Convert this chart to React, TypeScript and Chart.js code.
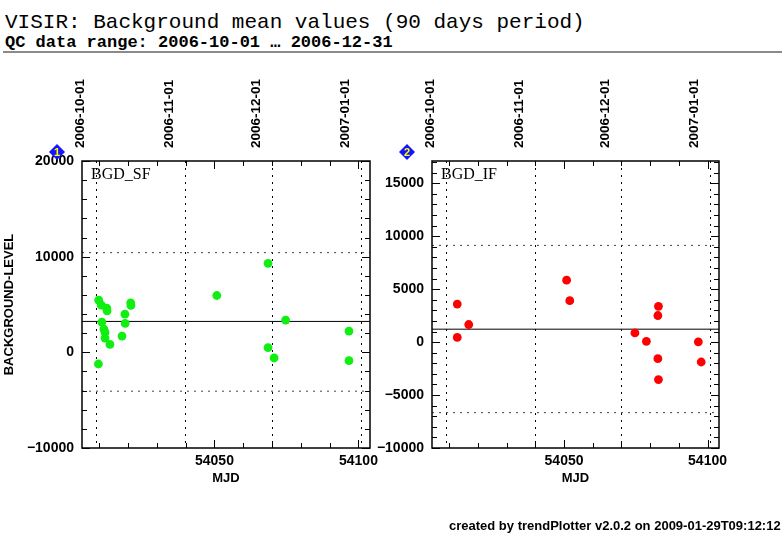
import React, { useEffect, useRef } from 'react';
import { Chart, registerables } from 'chart.js';

Chart.register(...registerables);

// MJD axis (bottom) and calendar axis (top)
const mjdMin = 54004;
const mjdMax = 54104;
const mjdLabels = [54050, 54100];
const mjdMinor = [54010, 54020, 54030, 54040, 54050, 54060, 54070, 54080, 54090, 54100];
const dateTicks = [54009, 54040, 54070, 54101];
const dateLabels = ['2006-10-01', '2006-11-01', '2006-12-01', '2007-01-01'];

// panel 1: BGD_SF
const sfMjd = [54009.8, 54010.7, 54012.6, 54012.7, 54010.9, 54011.6, 54012.0, 54012.0, 54013.7, 54009.7, 54018.9, 54019.0, 54017.9, 54020.9, 54021.0, 54050.8, 54068.6, 54068.6, 54070.7, 54074.7, 54096.7, 54096.7];
const sfLevel = [5450, 4930, 4620, 4340, 3160, 2430, 2080, 1490, 830, -1220, 3990, 3020, 1700, 5180, 4900, 5940, 9300, 490, -590, 3370, 2220, -870];
const sfMean = 3230;
const sfUpper = 10420;
const sfLower = -4060;
const sfYLabels = [-10000, 0, 10000, 20000];
const sfYMinor = [-10000, -8000, -6000, -4000, -2000, 0, 2000, 4000, 6000, 8000, 10000, 12000, 14000, 16000, 18000, 20000];

// panel 2: BGD_IF
const ifMjd = [54012.8, 54012.8, 54016.8, 54050.9, 54052.0, 54074.7, 54078.7, 54082.9, 54082.7, 54082.7, 54082.9, 54096.8, 54097.8];
const ifLevel = [3590, 440, 1660, 5850, 3910, 870, 70, 3380, 2510, -1570, -3540, 30, -1880];
const ifMean = 1220;
const ifUpper = 9130;
const ifLower = -6660;
const ifYLabels = [-10000, -5000, 0, 5000, 10000, 15000];
const ifYMinor = [-10000, -9000, -8000, -7000, -6000, -5000, -4000, -3000, -2000, -1000, 0, 1000, 2000, 3000, 4000, 5000, 6000, 7000, 8000, 9000, 10000, 11000, 12000, 13000, 14000, 15000, 16000, 17000];

const sans = '"Liberation Sans", Arial, sans-serif';

// frame with inward ticks on all four sides, panel name and numbered badge
const frameTicks = {
  id: 'frameTicks',
  afterDatasetsDraw(chart: any, _args: any, opts: any) {
    const { ctx, chartArea } = chart;
    const { left, right, top, bottom } = chartArea;
    const xs = chart.scales.x;
    const ys = chart.scales.y;
    ctx.save();
    ctx.strokeStyle = '#000';
    ctx.lineWidth = 1;
    ctx.beginPath();
    mjdMinor.forEach((v) => {
      const px = Math.round(xs.getPixelForValue(v)) + 0.5;
      const len = mjdLabels.includes(v) ? 8 : 5;
      ctx.moveTo(px, bottom);
      ctx.lineTo(px, bottom - len);
      ctx.moveTo(px, top);
      ctx.lineTo(px, top + len);
    });
    opts.yMinor.forEach((v: number) => {
      const py = Math.round(ys.getPixelForValue(v)) + 0.5;
      const len = opts.yMajor.includes(v) ? 8 : 5;
      ctx.moveTo(left, py);
      ctx.lineTo(left + len, py);
      ctx.moveTo(right, py);
      ctx.lineTo(right - len, py);
    });
    ctx.stroke();
    ctx.lineWidth = 1.5;
    ctx.strokeRect(left, top, right - left, bottom - top);

    ctx.fillStyle = '#000';
    ctx.font = '16px "Liberation Serif", serif';
    ctx.textAlign = 'left';
    ctx.textBaseline = 'alphabetic';
    ctx.fillText(opts.label, left + 9, top + 18);

    const cx = left - 25;
    const cy = top - 9;
    ctx.beginPath();
    ctx.moveTo(cx, cy - 8);
    ctx.lineTo(cx + 8, cy);
    ctx.lineTo(cx, cy + 8);
    ctx.lineTo(cx - 8, cy);
    ctx.closePath();
    ctx.fillStyle = '#1414ff';
    ctx.fill();
    ctx.fillStyle = '#ffff00';
    ctx.font = 'bold 11px ' + sans;
    ctx.textAlign = 'center';
    ctx.textBaseline = 'middle';
    ctx.fillText(opts.badge, cx, cy + 1);
    ctx.restore();
  },
};

const minusFmt = (v: number) => (v < 0 ? '\u2212' + Math.abs(v) : String(v));

type PanelProps = {
  mjd: number[];
  level: number[];
  mean: number;
  upper: number;
  lower: number;
  yMin: number;
  yMax: number;
  yLabels: number[];
  yMinor: number[];
  color: string;
  label: string;
  badge: string;
  yTitle: string;
  yAxisWidth: number;
  padRight: number;
  x: number;
  w: number;
};

const Panel: React.FC<PanelProps> = (p) => {
  const ref = useRef<HTMLCanvasElement>(null);

  useEffect(() => {
    if (!ref.current) return;
    const hline = (y: number) => [
      { x: mjdMin, y },
      { x: mjdMax, y },
    ];
    const chart = new Chart(ref.current, {
      type: 'scatter',
      data: {
        datasets: [
          {
            data: p.mjd.map((m, i) => ({ x: m, y: p.level[i] })),
            backgroundColor: p.color,
            borderWidth: 0,
            pointRadius: 4.4,
          },
          {
            data: hline(p.mean),
            showLine: true,
            borderColor: '#000',
            borderWidth: 1,
            pointRadius: 0,
          },
          {
            data: hline(p.upper),
            showLine: true,
            borderColor: '#444',
            borderWidth: 1,
            borderDash: [2, 5],
            pointRadius: 0,
          },
          {
            data: hline(p.lower),
            showLine: true,
            borderColor: '#444',
            borderWidth: 1,
            borderDash: [2, 5],
            pointRadius: 0,
          },
        ],
      },
      options: {
        animation: false,
        responsive: false,
        layout: { padding: { left: 0, right: p.padRight, top: 0, bottom: 0 } },
        plugins: {
          legend: { display: false },
          tooltip: { enabled: false },
          frameTicks: { yMinor: p.yMinor, yMajor: p.yLabels, label: p.label, badge: p.badge },
        } as any,
        scales: {
          x: {
            type: 'linear',
            position: 'bottom',
            min: mjdMin,
            max: mjdMax,
            afterBuildTicks: (s: any) => {
              s.ticks = mjdLabels.map((v) => ({ value: v }));
            },
            ticks: {
              color: '#000',
              font: { family: sans, weight: 'bold', size: 14 },
              padding: 5,
              maxRotation: 0,
              callback: (v: any) => String(v),
            },
            grid: { display: false, drawTicks: false },
            border: { display: false },
            title: {
              display: true,
              text: 'MJD',
              color: '#000',
              font: { family: sans, weight: 'bold', size: 13 },
              padding: { top: 0, bottom: 14 },
            },
            afterFit: (s: any) => {
              s.height = 52;
            },
          },
          x2: {
            type: 'linear',
            position: 'top',
            min: mjdMin,
            max: mjdMax,
            afterBuildTicks: (s: any) => {
              s.ticks = dateTicks.map((v) => ({ value: v }));
            },
            ticks: {
              color: '#000',
              font: { family: sans, weight: 'bold', size: 13.5 },
              padding: 13,
              minRotation: 90,
              maxRotation: 90,
              autoSkip: false,
              callback: (_v: any, i: number) => dateLabels[i],
            },
            grid: { drawTicks: false, color: '#000', lineWidth: 1 },
            border: { display: false, dash: [2, 5] },
            afterFit: (s: any) => {
              s.height = 161;
            },
          },
          y: {
            min: p.yMin,
            max: p.yMax,
            afterBuildTicks: (s: any) => {
              s.ticks = p.yLabels.map((v) => ({ value: v }));
            },
            ticks: {
              color: '#000',
              font: { family: sans, weight: 'bold', size: 14 },
              padding: 8,
              callback: (v: any) => minusFmt(Number(v)),
            },
            grid: { display: false, drawTicks: false },
            border: { display: false },
            title: {
              display: p.yTitle !== '',
              text: p.yTitle,
              color: '#000',
              font: { family: sans, weight: 'bold', size: 13 },
              padding: { top: 2, bottom: 0 },
            },
            afterFit: (s: any) => {
              s.width = p.yAxisWidth;
            },
          },
        },
      },
      plugins: [frameTicks],
    });
    return () => chart.destroy();
  }, []);

  return (
    <canvas
      ref={ref}
      width={p.w}
      height={500}
      style={{ position: 'absolute', left: p.x, top: 0, width: p.w, height: 500 }}
    />
  );
};

const App: React.FC = () => {
  return (
    <div style={{ position: 'fixed', left: 0, top: 0, width: 782, height: 542, background: '#fff', overflow: 'hidden' }}>
      <div style={{ position: 'absolute', left: 5, top: 12, font: '21px "Liberation Mono", monospace', lineHeight: '21px', whiteSpace: 'pre', color: '#000' }}>
        VISIR: Background mean values (90 days period)
      </div>
      <div style={{ position: 'absolute', left: 5, top: 34, font: 'bold 17px "Liberation Mono", monospace', lineHeight: '17px', whiteSpace: 'pre', color: '#000' }}>
        QC data range: 2006-10-01 … 2006-12-31
      </div>
      <div style={{ position: 'absolute', left: 3, top: 51, width: 779, height: 2, background: '#8a8a8a' }} />
      <Panel
        mjd={sfMjd}
        level={sfLevel}
        mean={sfMean}
        upper={sfUpper}
        lower={sfLower}
        yMin={-10000}
        yMax={20000}
        yLabels={sfYLabels}
        yMinor={sfYMinor}
        color="#11ee11"
        label="BGD_SF"
        badge="1"
        yTitle="BACKGROUND-LEVEL"
        yAxisWidth={82}
        padRight={21}
        x={0}
        w={391}
      />
      <Panel
        mjd={ifMjd}
        level={ifLevel}
        mean={ifMean}
        upper={ifUpper}
        lower={ifLower}
        yMin={-10000}
        yMax={17100}
        yLabels={ifYLabels}
        yMinor={ifYMinor}
        color="#ff0000"
        label="BGD_IF"
        badge="2"
        yTitle=""
        yAxisWidth={62}
        padRight={63}
        x={370}
        w={412}
      />
      <div style={{ position: 'absolute', left: 449, top: 519, font: 'bold 13px "Liberation Sans", Arial, sans-serif', lineHeight: '14px', whiteSpace: 'pre', color: '#000' }}>
        created by trendPlotter v2.0.2 on 2009-01-29T09:12:12
      </div>
    </div>
  );
};

export default App;
